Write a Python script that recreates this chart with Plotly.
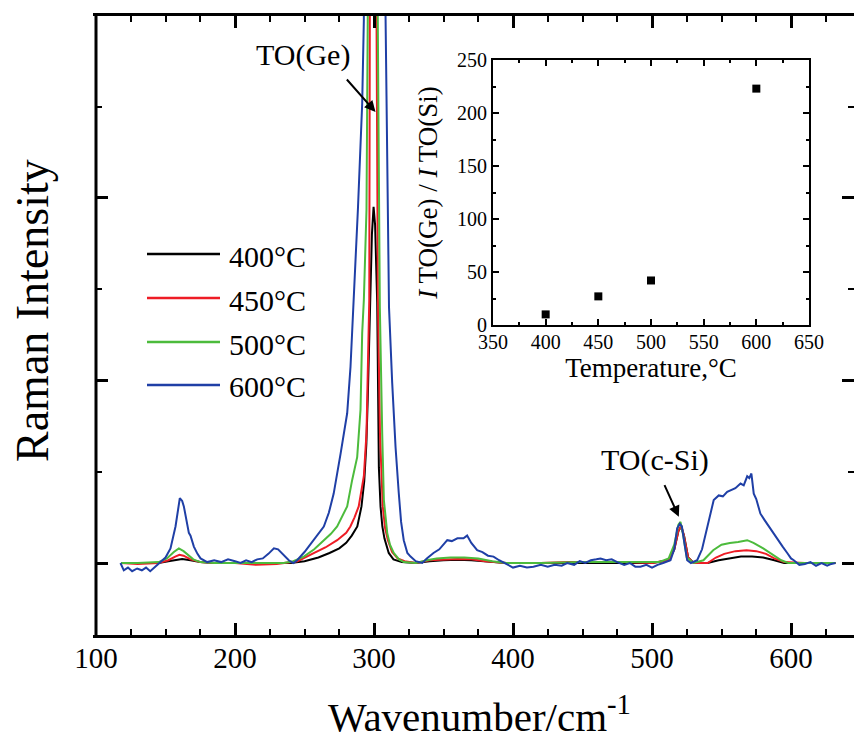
import plotly.graph_objects as go

# ---------------- data ----------------
series_names = ["400°C", "450°C", "500°C", "600°C"]
series_colors = ["#000000", "#ee1c25", "#4cbb3c", "#1f3fa6"]

spec_400 = [(118,0.0),(130,0.0),(145,0.0),(152,0.02),(158,0.04),(162,0.045),(168,0.03),(175,0.01),(185,0.0),
            (200,0.0),(220,-0.005),(240,0.0),(250,0.02),(260,0.06),(268,0.11),(275,0.16),(280,0.22),(284,0.3),
            (288,0.4),(291,0.62),(293,0.9),(294.5,1.3),(295.5,1.8),(297,2.88),(298.5,3.6),(299.7,3.9),(300.8,3.7),
            (302.3,2.85),(302.8,1.8),(303.5,1.05),(304.7,0.62),(306,0.4),(307.5,0.27),(310.6,0.11),(314,0.04),
            (320,0.01),(330,0.0),(340,0.02),(350,0.03),(360,0.035),(370,0.03),(380,0.015),(395,0.0),(420,0.0),
            (460,0.0),(500,0.0),(512,0.03),(516,0.15),(519,0.35),(521,0.4),(523,0.3),(526,0.06),(530,0.0),
            (540,0.0),(548,0.03),(556,0.05),(564,0.07),(572,0.07),(580,0.06),(588,0.03),(595,0.0),(610,0.0),(632,0.0)]

spec_450 = [(118,0.0),(130,-0.01),(145,0.0),(152,0.03),(157,0.07),(160,0.09),(163,0.08),(168,0.04),(175,0.01),
            (185,0.0),(200,0.0),(215,-0.02),(230,-0.01),(245,0.02),(257,0.11),(265,0.17),(273.5,0.25),(280,0.33),
            (283,0.4),(286,0.5),(289,0.62),(291,0.8),(292.7,0.95),(294.6,1.42),(295.5,2.15),(296.6,2.88),(297,6.0),
            (299,10.0),(300,10.8),(301,8.5),(301.6,6.0),(302.8,2.9),(304.3,1.42),(306.3,0.62),(308,0.38),(310,0.25),
            (313,0.12),(317,0.05),(322,0.02),(330,0.0),(340,0.03),(350,0.04),(360,0.045),(370,0.04),(380,0.02),
            (395,0.0),(420,0.0),(440,0.01),(460,0.01),(480,0.01),(500,0.0),(512,0.03),(516,0.15),(519,0.35),
            (521,0.41),(523,0.3),(526,0.06),(530,0.0),(540,0.0),(546,0.06),(552,0.1),(560,0.13),(568,0.14),
            (575,0.13),(582,0.1),(588,0.05),(595,0.01),(610,0.0),(632,0.0)]

spec_500 = [(118,0.0),(130,0.0),(145,0.01),(151,0.05),(156,0.12),(159.6,0.16),(163,0.13),(166,0.09),(170,0.04),
            (175,0.01),(185,0.0),(200,0.0),(220,0.0),(235,0.0),(242,0.02),(249.5,0.07),(257,0.15),(263.9,0.25),
            (269,0.32),(273.5,0.4),(277,0.5),(280.7,0.62),(284.3,0.91),(287.9,1.16),(290.3,1.68),(291.5,2.52),
            (292.7,2.88),(294.6,3.87),(295.5,5.95),(297,11.0),(300,16.8),(301.5,11.0),(302.7,6.0),(304.2,2.8),
            (305.9,1.42),(307.1,0.69),(309.5,0.33),(311.5,0.2),(314.2,0.11),(318,0.04),(321.4,0.01),(330,0.0),
            (338,0.03),(345,0.05),(355,0.06),(365,0.06),(375,0.05),(385,0.02),(395,0.0),(420,0.0),(450,0.01),
            (480,0.01),(505,0.01),(512,0.05),(516,0.2),(519,0.42),(520.5,0.45),(522.5,0.3),(525,0.06),(530,0.0),
            (537,0.03),(544,0.14),(550,0.2),(556,0.22),(562,0.23),(568.5,0.25),(573,0.22),(580,0.16),(587.6,0.08),
            (593,0.03),(598,0.0),(610,0.0),(632,0.0)]

spec_600 = [(117.6,0.0),(120,-0.08),(123,-0.05),(126,-0.09),(129.6,-0.06),(133,-0.08),(136,-0.05),(139,-0.09),
            (142,-0.05),(146,0.0),(150,0.06),(153.6,0.16),(157.2,0.40),(160.3,0.71),(162,0.68),(163.2,0.62),
            (165,0.45),(166.8,0.33),(168,0.3),(170.4,0.18),(173,0.1),(175.2,0.05),(180,0.01),(185,0.03),(190,0.01),
            (195,0.04),(200,0.02),(204,0.0),(208,0.03),(212,0.01),(216,0.04),(220,0.05),(224,0.1),(228,0.16),
            (231,0.15),(235,0.09),(238.7,0.03),(242,0.0),(244.7,0.03),(250,0.12),(256.7,0.25),(263.9,0.40),
            (267.5,0.55),(271,0.76),(276,1.2),(280.7,1.64),(283.1,2.15),(285.5,2.88),(288.5,3.9),(291.5,5.03),
            (292.7,5.95),(296,30.0),(300,89.0),(304,30.0),(308.3,6.0),(310.8,2.8),(313.1,1.97),(315.5,1.27),
            (317.8,0.77),(319.5,0.45),(321.4,0.25),(324,0.11),(326.3,0.07),(330,0.02),(334.7,0.0),(338,0.05),
            (342.8,0.11),(347,0.15),(352.7,0.25),(356,0.24),(360,0.27),(364.4,0.27),(367,0.3),(370,0.22),
            (374.2,0.14),(378,0.12),(382,0.08),(386,0.07),(390,0.03),(395.8,-0.02),(400,-0.05),(405,-0.03),
            (410,-0.05),(414.7,-0.04),(420,-0.02),(425,-0.04),(430,-0.02),(435,-0.03),(439,0.0),(444,-0.02),
            (448,0.02),(452,0.0),(456,0.03),(460,0.04),(463,0.05),(467,0.03),(471,0.04),(475,0.01),(480,-0.02),
            (484,0.0),(488,-0.04),(491.7,-0.04),(496,-0.02),(500,-0.05),(504,-0.02),(508,0.0),(513.3,0.03),
            (516,0.15),(518.1,0.38),(520,0.43),(521.5,0.4),(523.5,0.2),(525.3,0.03),(528,0.0),(532.5,0.03),
            (536,0.15),(539.7,0.4),(544.4,0.69),(548,0.74),(551,0.73),(554.1,0.78),(557,0.8),(560,0.82),
            (563.7,0.87),(566,0.85),(568.5,0.95),(570,0.93),(571.5,0.98),(573.2,0.76),(575,0.7),(578,0.54),
            (581,0.47),(584,0.4),(587.6,0.33),(591,0.24),(594,0.18),(597.3,0.11),(600,0.05),(602,0.03),
            (606,-0.02),(610,-0.01),(614,0.01),(618,-0.03),(622,0.0),(626,-0.03),(629,-0.01),(632,0.0)]

spectra = [spec_400, spec_450, spec_500, spec_600]

# inset data
inset_temps = [400, 450, 500, 600]
inset_ratio = [10, 27, 42, 223]

# ---------------- geometry helpers (layout only) ----------------
W, H = 854, 742
ML, MR, MT, MB = 96, 0, 16, 107
PW, PH = W - ML - MR, H - MT - MB


def pxx(px):
    return (px - ML) / PW


def pxy(py):
    return (H - MB - py) / PH


FONT = "Liberation Serif"

fig = go.Figure()

for spec, name, col in zip(spectra, series_names, series_colors):
    xs = [p[0] for p in spec]
    ys = [p[1] for p in spec]
    fig.add_trace(go.Scatter(x=xs, y=ys, mode="lines", name=name,
                             line=dict(color=col, width=2), showlegend=False,
                             xaxis="x", yaxis="y"))

fig.add_trace(go.Scatter(x=inset_temps, y=inset_ratio, mode="markers",
                         marker=dict(symbol="square", size=8, color="black"),
                         showlegend=False, xaxis="x2", yaxis="y2"))

# manual legend (long line samples)
legend_rows = [254, 298, 342, 385]
shapes = []
annotations = []
for name, col, ry in zip(series_names, series_colors, legend_rows):
    shapes.append(dict(type="line", xref="paper", yref="paper",
                       x0=pxx(147), x1=pxx(220), y0=pxy(ry), y1=pxy(ry),
                       line=dict(color=col, width=2.5)))
    annotations.append(dict(text=name, xref="paper", yref="paper", x=pxx(227), y=pxy(ry + 2),
                            xanchor="left", yanchor="middle", showarrow=False,
                            font=dict(family=FONT, size=30, color="black")))

# left axis line (right side of main frame is cropped in the reference)
shapes.append(dict(type="line", xref="paper", yref="paper", x0=0, x1=0, y0=0, y1=1,
                   line=dict(color="black", width=3)))

# peak labels
annotations += [
    dict(text="TO(Ge)", x=248.9, y=5.56, xref="x", yref="y", showarrow=False,
         xanchor="center", yanchor="middle", font=dict(family=FONT, size=30, color="black")),
    dict(text="", x=301.1, y=4.94, xref="x", yref="y", showarrow=True, ax=-30, ay=-34,
         arrowhead=2, arrowsize=1.1, arrowwidth=2, arrowcolor="black", standoff=0),
    dict(text="TO(c-Si)", x=502.2, y=1.123, xref="x", yref="y", showarrow=False,
         xanchor="center", yanchor="middle", font=dict(family=FONT, size=30, color="black")),
    dict(text="", x=519.3, y=0.507, xref="x", yref="y", showarrow=True, ax=-15, ay=-33,
         arrowhead=2, arrowsize=1.1, arrowwidth=2, arrowcolor="black", standoff=0),
    # axis titles
    dict(text="Wavenumber/cm<sup>-1</sup>", xref="paper", yref="paper", x=pxx(479), y=pxy(742),
         xanchor="center", yanchor="bottom", showarrow=False,
         font=dict(family=FONT, size=41, color="black")),
    dict(text="Raman Intensity", xref="paper", yref="paper", x=pxx(32), y=pxy(311),
         xanchor="center", yanchor="middle", textangle=-90, showarrow=False,
         font=dict(family=FONT, size=46, color="black")),
]

axis_common = dict(showgrid=False, zeroline=False, color="black", automargin=False)

fig.update_layout(
    width=W, height=H,
    margin=dict(l=ML, r=MR, t=MT, b=MB, pad=0),
    paper_bgcolor="white", plot_bgcolor="white",
    font=dict(family=FONT, color="black"),
    showlegend=False,
    xaxis=dict(**axis_common, domain=[0, 1], range=[100, 100 + PW / 1.39],
               showline=True, linewidth=3, linecolor="black", mirror="allticks",
               ticks="inside", ticklen=12, tickwidth=2.5, tickcolor="black",
               tick0=100, dtick=100, tickfont=dict(family=FONT, size=29), ticklabelstandoff=-5,
               minor=dict(dtick=25, ticks="inside", ticklen=6, tickwidth=2, tickcolor="black"),
               anchor="y"),
    yaxis=dict(**axis_common, domain=[0, 1], range=[-(635 - 563) / 91.3, (563 - 16) / 91.3],
               showline=True, linewidth=3, linecolor="rgba(0,0,0,0)", mirror="allticks",
               ticks="inside", ticklen=12, tickwidth=2.5, tickcolor="black",
               tick0=0, dtick=2, showticklabels=False,
               minor=dict(dtick=1, ticks="inside", ticklen=6, tickwidth=2, tickcolor="black"),
               anchor="x"),
    xaxis2=dict(**axis_common, domain=[pxx(493), pxx(809)], range=[350, 650],
                showline=True, linewidth=2, linecolor="black", mirror="allticks",
                ticks="inside", ticklen=6, tickwidth=1.5, tickcolor="black",
                tick0=350, dtick=50, tickfont=dict(family=FONT, size=20), ticklabelstandoff=-2,
                minor=dict(dtick=25, ticks="inside", ticklen=3, tickwidth=1.5, tickcolor="black"),
                title=dict(text="Temperature,°C", font=dict(family=FONT, size=27), standoff=0),
                anchor="y2"),
    yaxis2=dict(**axis_common, domain=[pxy(325), pxy(60)], range=[0, 250],
                showline=True, linewidth=2, linecolor="black", mirror="allticks",
                ticks="inside", ticklen=6, tickwidth=1.5, tickcolor="black",
                tick0=0, dtick=50, tickfont=dict(family=FONT, size=20),
                minor=dict(dtick=25, ticks="inside", ticklen=3, tickwidth=1.5, tickcolor="black"),
                title=dict(text="<i>I</i> TO(Ge) / <i>I</i> TO(Si)", font=dict(family=FONT, size=27),
                           standoff=12),
                anchor="x2"),
    shapes=shapes,
    annotations=annotations,
)

fig.write_html(
    "out.html", config={"displayModeBar": False},
    post_script=("document.documentElement.style.overflow='hidden';"
                 "document.body.style.overflow='hidden';"
                 "document.body.style.margin='0px';document.body.style.padding='0px';"),
)
